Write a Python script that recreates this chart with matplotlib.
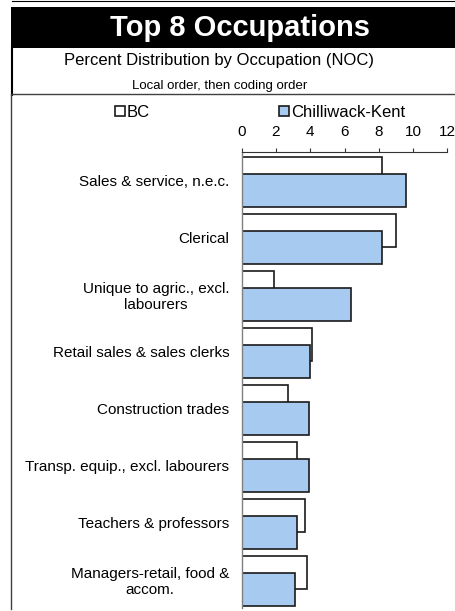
import matplotlib
matplotlib.use("Agg")
import matplotlib.pyplot as plt
from matplotlib.patches import Rectangle
from matplotlib.lines import Line2D
import numpy as np

plt.rcParams['font.family'] = ['Liberation Sans', 'DejaVu Sans']

categories = ["Sales & service, n.e.c.", "Clerical",
              "Unique to agric., excl.\nlabourers", "Retail sales & sales clerks",
              "Construction trades", "Transp. equip., excl. labourers",
              "Teachers & professors", "Managers-retail, food &\naccom."]
bc = [8.2, 9.0, 1.9, 4.1, 2.7, 3.2, 3.7, 3.8]
chilliwack = [9.6, 8.2, 6.4, 4.0, 3.9, 3.9, 3.2, 3.1]
xticks = [0, 2, 4, 6, 8, 10, 12]

W, H = 455, 611


def px(x, y):
    return x / W, 1 - y / H


fig = plt.figure(figsize=(W / 100, H / 100), dpi=100)

# frame / header decorations
fig.add_artist(Line2D([12 / W, 1], [1 - 0.8 / H] * 2, color='black', lw=0.8))
fig.add_artist(Rectangle(px(11, 47.5), 1 - 11 / W, 40 / H, color='black', lw=0))
fig.add_artist(Line2D([11.7 / W] * 2, [1 - 47 / H, 1 - 94.5 / H], color='black', lw=1.5))
fig.add_artist(Line2D([11 / W, 1], [1 - 94.3 / H] * 2, color='#404040', lw=1.0))
fig.add_artist(Line2D([10.8 / W] * 2, [1 - 94.5 / H, 1 - 609 / H], color='#404040', lw=1.0))

fig.text(*px(240, 27.5), "Top 8 Occupations", color='white', fontsize=21,
         fontweight='bold', ha='center', va='center')
fig.text(*px(218.5, 60), "Percent Distribution by Occupation (NOC)",
         fontsize=12, ha='center', va='center')
fig.text(*px(220, 86.5), "Local order, then coding order",
         fontsize=9.5, ha='center', va='center')

left, right, top, bottom = 241.7, 447.3, 152, 608
ax = fig.add_axes([left / W, 1 - bottom / H, (right - left) / W, (bottom - top) / H])

pos = np.arange(len(categories))
h = 0.58
b1 = ax.barh(pos - 0.123, bc, height=h, color='white', edgecolor='#1a1a1a',
             lw=1.2, label='BC')
b2 = ax.barh(pos + 0.168, chilliwack, height=h, color='#A6CAF0', edgecolor='#1a1a1a',
             lw=1.2, label='Chilliwack-Kent')

ax.set_xlim(0, 12)
ax.set_ylim(len(categories) - 0.5, -0.5)
ax.set_yticks(pos)
ax.set_yticklabels(categories, fontsize=11, multialignment='center', linespacing=1.15)
ax.tick_params(axis='y', length=0, pad=9)
ax.xaxis.tick_top()
ax.set_xticks(xticks)
ax.tick_params(axis='x', labelsize=11, length=3, width=0.8, pad=6, color='#333333')
for s in ['right', 'bottom']:
    ax.spines[s].set_visible(False)
ax.spines['top'].set_color('#333333')
ax.spines['top'].set_linewidth(0.8)
ax.spines['left'].set_color('#808080')
ax.spines['left'].set_linewidth(1.0)

fig.legend(handles=[b1, b2], ncol=2, loc='center left', bbox_to_anchor=px(115, 112.5),
           frameon=False, fontsize=12, handlelength=0.6, handleheight=0.6,
           handletextpad=0.1, columnspacing=7.75, borderpad=0, borderaxespad=0)

fig.savefig("out.png", dpi=100)
